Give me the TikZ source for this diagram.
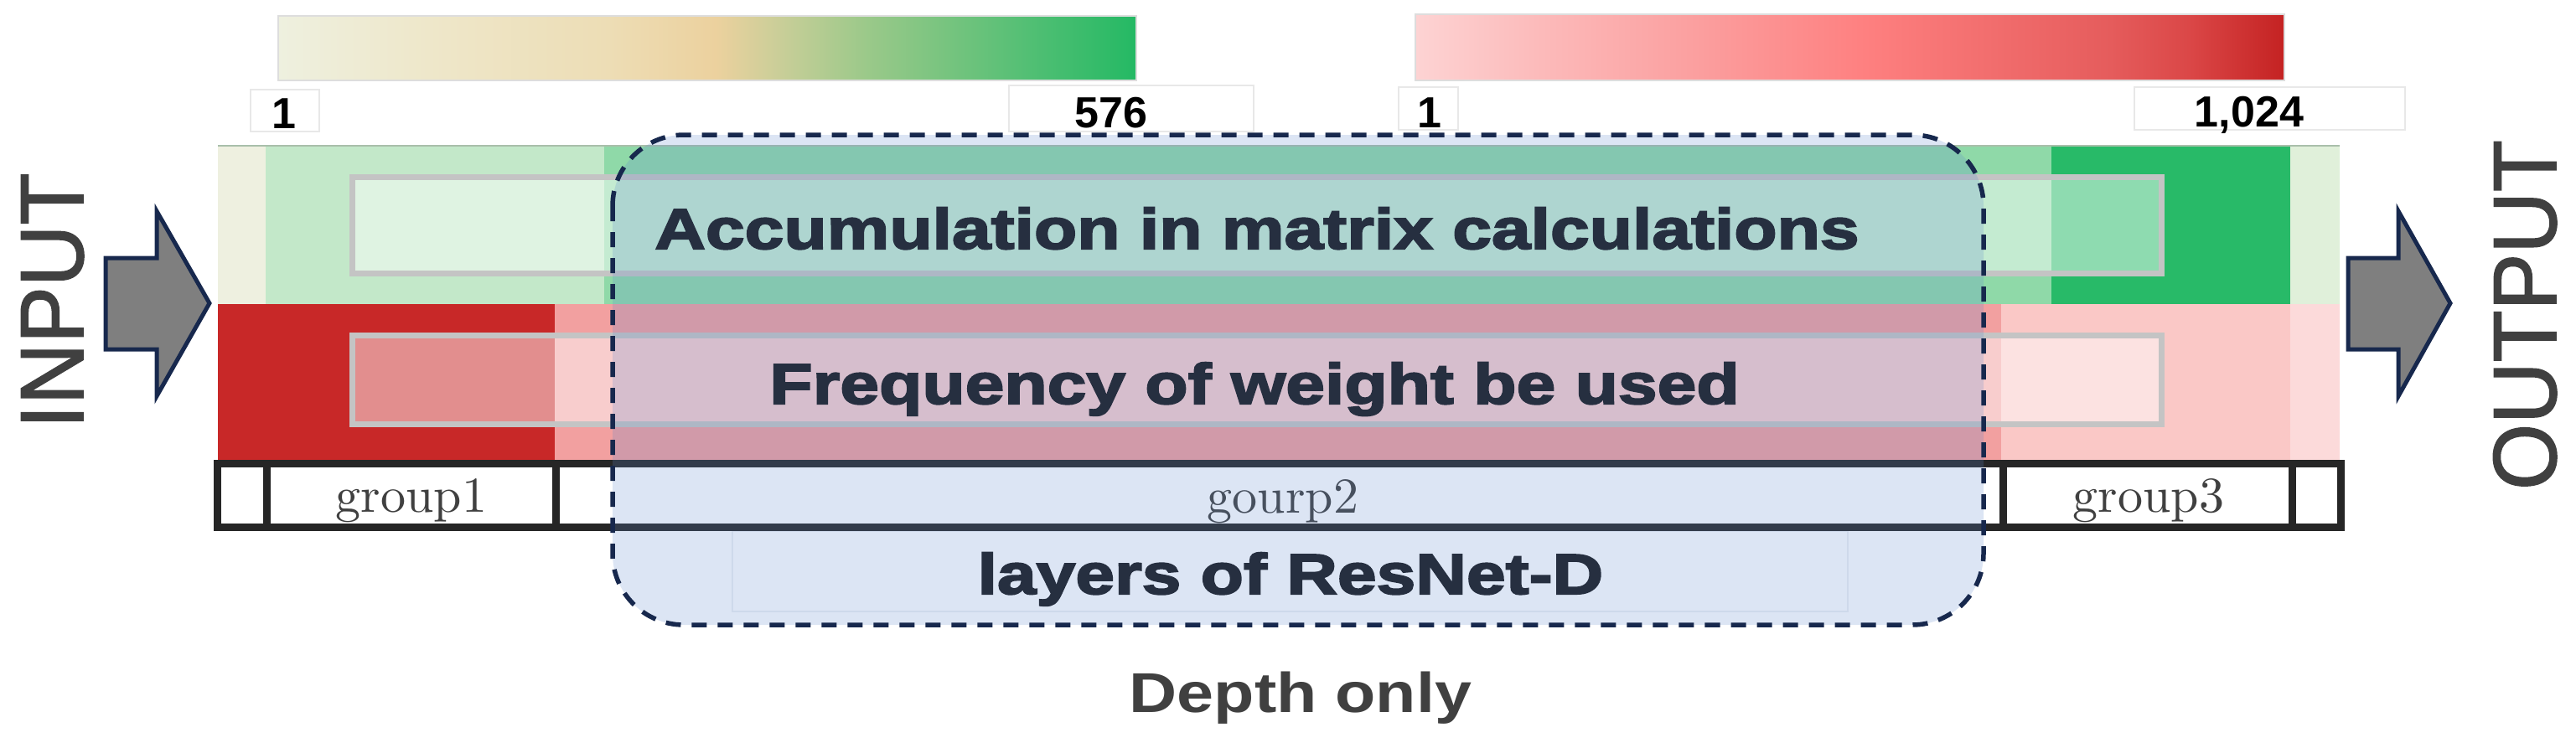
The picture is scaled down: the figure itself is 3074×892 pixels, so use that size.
\documentclass[tikz,border=0pt]{standalone}
\usepackage{fontspec}
\newfontfamily\sansB[FakeStretch=1.235,FakeBold=3]{Liberation Sans}
\newfontfamily\sansD[FakeStretch=1.18]{Liberation Sans}
\newfontfamily\sansIO[FakeStretch=0.95,FakeBold=1.5]{Liberation Sans}
\newfontfamily\sansN{Liberation Sans}
\newfontfamily\lmten{lmroman10-regular}[Extension=.otf]
\definecolor{gPale}{HTML}{EEF0E0}
\definecolor{gLight}{HTML}{C3E8C9}
\definecolor{gMid}{HTML}{8FD9A8}
\definecolor{gDark}{HTML}{28BA68}
\definecolor{gEnd}{HTML}{E0F0DA}
\definecolor{rDark}{HTML}{C82828}
\definecolor{rMid}{HTML}{F2A0A0}
\definecolor{rLight}{HTML}{FAC8C6}
\definecolor{rEnd}{HTML}{FCDADA}
\definecolor{boxGray}{HTML}{C4C4C4}
\definecolor{navy}{HTML}{17284D}
\definecolor{overlayBlue}{RGB}{96,137,205}
\definecolor{txtDark}{HTML}{262F40}
\definecolor{txtGray}{HTML}{404040}
\definecolor{grpBlack}{HTML}{262626}
\definecolor{barBorder}{HTML}{DDDDDD}
\definecolor{tickBorder}{HTML}{E8E8E8}
\definecolor{arrowGray}{HTML}{7F7F7F}
\definecolor{bandLine}{HTML}{A9BFAA}
\definecolor{layBox}{HTML}{EEF0F4}
% green colour bar stops
\definecolor{cgA}{HTML}{EEF0DF}
\definecolor{cgB}{HTML}{EEE8CC}
\definecolor{cgC}{HTML}{EDDDB5}
\definecolor{cgD}{HTML}{ECD19E}
\definecolor{cgE}{HTML}{C8CE98}
\definecolor{cgF}{HTML}{9CC98A}
\definecolor{cgG}{HTML}{52BF74}
\definecolor{cgH}{HTML}{24B964}
% red colour bar stops
\definecolor{crA}{HTML}{FDD3D3}
\definecolor{crB}{HTML}{FCBBBB}
\definecolor{crC}{HTML}{FB9E9E}
\definecolor{crD}{HTML}{FE8080}
\definecolor{crE}{HTML}{F26E6E}
\definecolor{crF}{HTML}{E55C5C}
\definecolor{crG}{HTML}{DA4646}
\definecolor{crH}{HTML}{C42222}
\begin{document}
\begin{tikzpicture}[x=1pt,y=-1pt,
  boldlbl/.style={font=\sansB\bfseries\fontsize{68}{80}\selectfont, text=txtDark, inner sep=0pt, anchor=base},
  grplbl/.style={font=\lmten\fontsize{60}{70}\selectfont, text=txtGray, inner sep=0pt, anchor=base},
  ticklbl/.style={font=\sansN\bfseries\fontsize{52}{60}\selectfont, text=black, inner sep=0pt, anchor=base},
  tickbox/.style={draw=tickBorder, line width=1.5pt, fill=white},
  iolbl/.style={font=\sansIO\fontsize{107}{120}\selectfont, text=txtGray, inner sep=0pt, anchor=base, rotate=90},
  bigarrow/.style={fill=arrowGray, draw=navy, line width=5pt, line join=miter},
  innerbox/.style={draw=boxGray, line width=7pt, fill=white, fill opacity=0.48},
  grid/.style={draw=grpBlack, line width=9pt}
]
\useasboundingbox (0,0) rectangle (3074,892);

% ---------- colour bars ----------
\shade[left color=cgA, right color=cgB] (332,19) rectangle (491.5,96);
\shade[left color=cgB, right color=cgC] (491,19) rectangle (727.5,96);
\shade[left color=cgC, right color=cgD] (727,19) rectangle (854.5,96);
\shade[left color=cgD, right color=cgE] (854,19) rectangle (933.5,96);
\shade[left color=cgE, right color=cgF] (933,19) rectangle (1031.5,96);
\shade[left color=cgF, right color=cgG] (1031,19) rectangle (1227.5,96);
\shade[left color=cgG, right color=cgH] (1227,19) rectangle (1356,96);
\draw[barBorder, line width=2pt] (332,19) rectangle (1356,96);

\shade[left color=crA, right color=crB] (1689,17) rectangle (1833.5,96);
\shade[left color=crB, right color=crC] (1833,17) rectangle (2029.5,96);
\shade[left color=crC, right color=crD] (2029,17) rectangle (2225.5,96);
\shade[left color=crD, right color=crE] (2225,17) rectangle (2371.5,96);
\shade[left color=crE, right color=crF] (2371,17) rectangle (2518.5,96);
\shade[left color=crF, right color=crG] (2518,17) rectangle (2616.5,96);
\shade[left color=crG, right color=crH] (2616,17) rectangle (2726,96);
\draw[barBorder, line width=2pt] (1689,17) rectangle (2726,96);

% tick boxes and labels
\draw[tickbox] (299,107) rectangle (381,157);
\draw[tickbox] (1204,102) rectangle (1496,157);
\draw[tickbox] (1669,104) rectangle (1740,155);
\draw[tickbox] (2547,104) rectangle (2870,155);
\node[ticklbl] (gmin) at (339,153) {1};
\node[ticklbl] (gmax) at (1326,152) {576};
\node[ticklbl] (rmin) at (1706,152) {1};
\node[ticklbl] (rmax) at (2684,151) {1,024};

% ---------- bands ----------
\fill[gPale]  (260,174) rectangle (317,363);
\fill[gLight] (317,174) rectangle (721,363);
\fill[gMid]   (721,174) rectangle (2448,363);
\fill[gDark]  (2448,174) rectangle (2733,363);
\fill[gEnd]   (2733,174) rectangle (2792,363);
\draw[bandLine, line width=1.5pt] (260,174) -- (2792,174);

\fill[rDark]  (260,363) rectangle (662,549);
\fill[rMid]   (662,363) rectangle (2388,549);
\fill[rLight] (2388,363) rectangle (2733,549);
\fill[rEnd]   (2733,363) rectangle (2792,549);

% inner label boxes
\path[innerbox] (420.5,211.5) rectangle (2579.5,326.5);
\path[innerbox] (420.5,400.5) rectangle (2579.5,506.5);

% ---------- group row ----------
\path[fill=white] (259,553.5) rectangle (2793,629.5);
\draw[layBox, line width=1.5pt] (874,634) rectangle (2205,730);
\draw[grid] (259,553.5) rectangle (2793,629.5);
\draw[grid] (318,553.5) -- (318,629.5);
\draw[grid] (663,553.5) -- (663,629.5);
\draw[grid] (2390,553.5) -- (2390,629.5);
\draw[grid] (2735,553.5) -- (2735,629.5);
\node[grplbl] (g1) at (491,611) {group1};
\node[grplbl] (g2) at (1531,612) {gourp2};
\node[grplbl] (g3) at (2564,611) {group3};

% ---------- arrows ----------
\draw[bigarrow] (126,308) -- (187,308) -- (187,252) -- (250,362) -- (187,473) -- (187,417) -- (126,417) -- cycle;
\draw[bigarrow] (2802,308) -- (2862,308) -- (2862,252) -- (2924,362) -- (2862,473) -- (2862,417) -- (2802,417) -- cycle;
\node[iolbl] (input) at (99,359) {INPUT};
\node[iolbl] (output) at (3050,376) {OUTPUT};

% ---------- dashed overlay ----------
\draw[navy, line width=5.5pt, dash pattern=on 18pt off 13pt, rounded corners=85pt,
      fill=overlayBlue, fill opacity=0.22] (731,161) rectangle (2367,746);

% ---------- texts ----------
\node[boldlbl] (accum) at (1500,297) {Accumulation in matrix calculations};
\node[boldlbl] (freq) at (1497,482) {Frequency of weight be used};
\node[boldlbl] (layers) at (1540,709) {layers of ResNet-D};
\node[font=\sansD\bfseries\fontsize{67}{80}\selectfont, text=txtGray, inner sep=0pt, anchor=base] (depth) at (1552,850) {Depth only};
\end{tikzpicture}
\end{document}
